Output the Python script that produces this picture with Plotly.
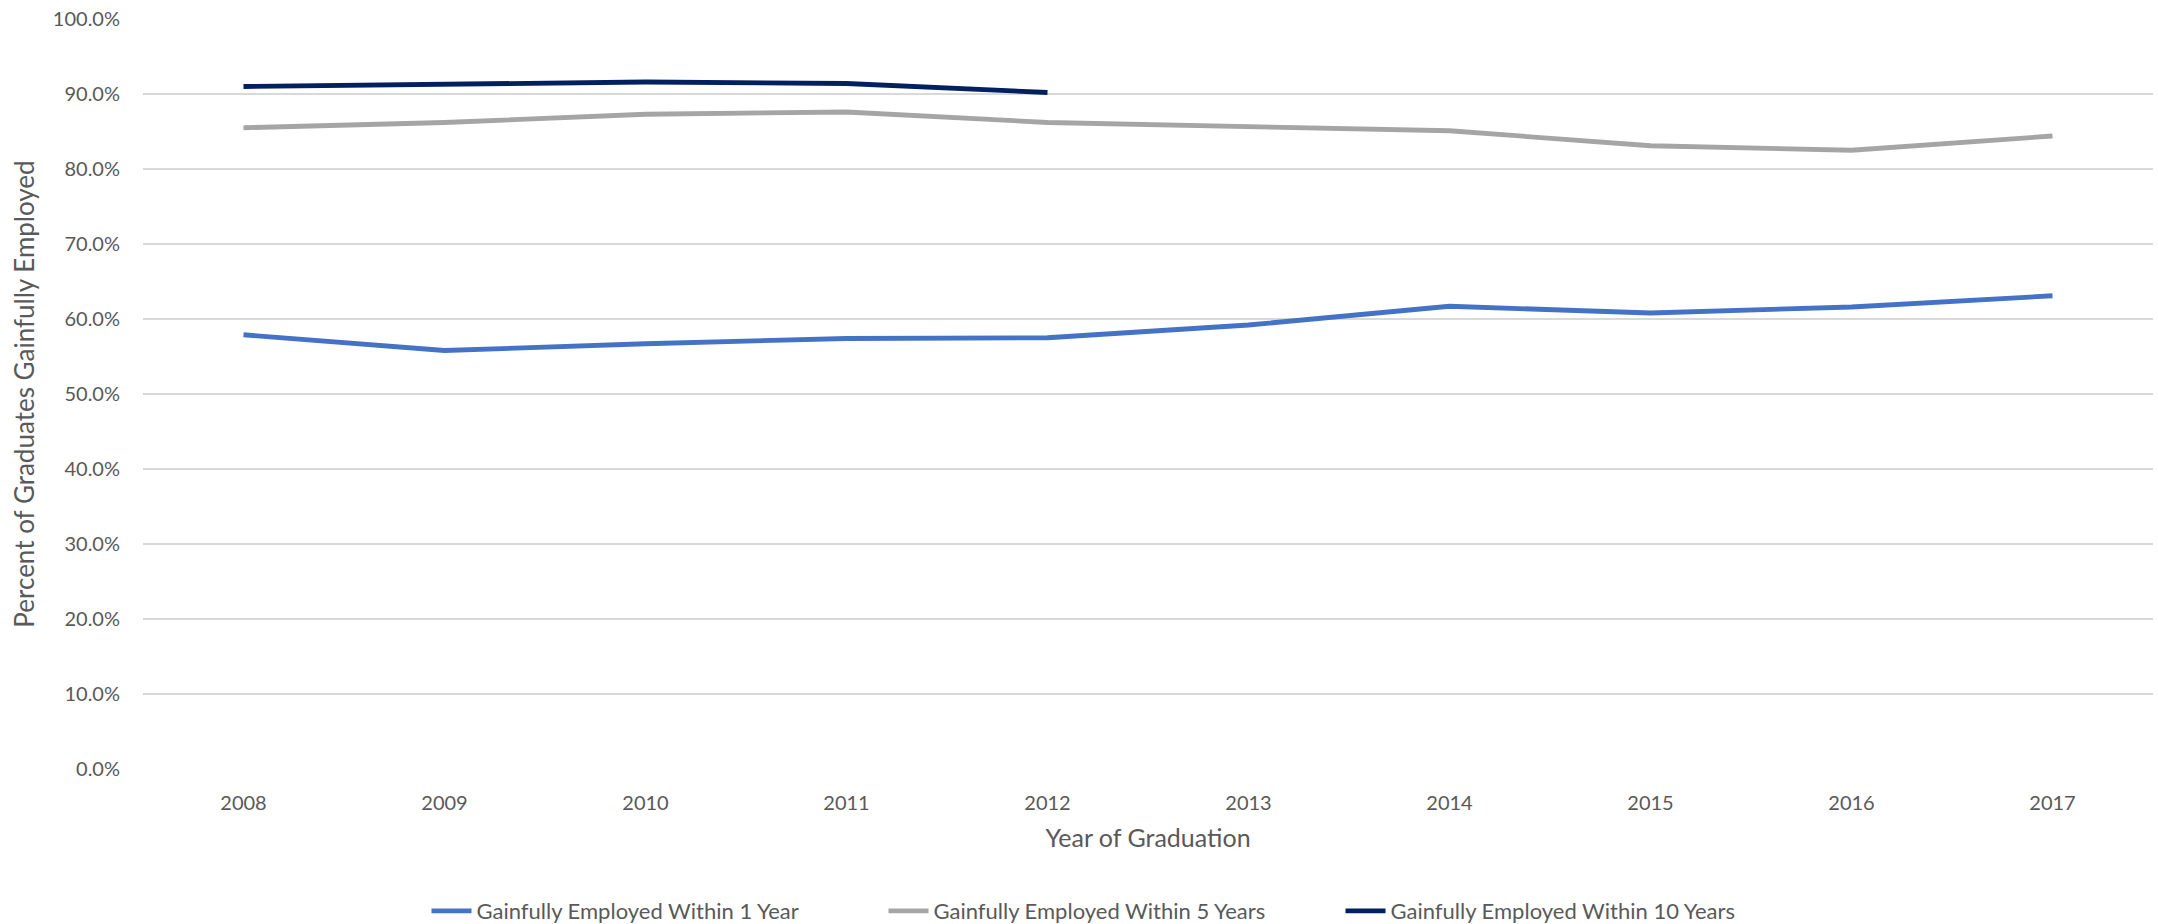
import plotly.graph_objects as go

years = ["2008", "2009", "2010", "2011", "2012", "2013", "2014", "2015", "2016", "2017"]
within_1_year = [0.579, 0.558, 0.567, 0.574, 0.575, 0.592, 0.617, 0.608, 0.616, 0.631]
within_5_years = [0.855, 0.862, 0.873, 0.876, 0.862, 0.857, 0.851, 0.831, 0.825, 0.844]
years_10 = ["2008", "2009", "2010", "2011", "2012"]
within_10_years = [0.910, 0.913, 0.916, 0.914, 0.902]

series_names = ["Gainfully Employed Within 1 Year",
                "Gainfully Employed Within 5 Years",
                "Gainfully Employed Within 10 Years"]
colors = ["#4472C4", "#A5A5A5", "#002060"]
y_ticks = [i / 10 for i in range(11)]

FONT = "Lato, 'Open Sans', sans-serif"
TXT = "#595959"

fig = go.Figure()
for xs, ys, name, c in [(years, within_1_year, series_names[0], colors[0]),
                        (years, within_5_years, series_names[1], colors[1]),
                        (years_10, within_10_years, series_names[2], colors[2])]:
    fig.add_trace(go.Scatter(x=xs, y=ys, name=name, mode="lines",
                             line=dict(color=c, width=4.8)))

fig.update_layout(
    width=2158, height=924,
    margin=dict(l=143, r=5, t=19, b=154.5),
    paper_bgcolor="white", plot_bgcolor="white",
    font=dict(family=FONT, size=20, color=TXT),
    showlegend=True,
    legend=dict(orientation="h", xref="container", yref="container",
                x=0.5 + 33 / 2158, xanchor="center", y=(924 - 911) / 924, yanchor="middle",
                font=dict(size=22, color=TXT),
                entrywidth=402, entrywidthmode="pixels",
                itemwidth=40),
    xaxis=dict(type="category", categoryorder="array", categoryarray=years,
               range=[-0.5, 9.5], showgrid=False, showline=False, zeroline=False,
               ticks="", ticklabelstandoff=20,
               tickfont=dict(size=20, color=TXT),
               title=dict(text="Year of Graduation", font=dict(size=25, color=TXT),
                          standoff=16)),
    yaxis=dict(range=[0, 1], tickvals=y_ticks, tickformat=".1%",
               showgrid=True, gridcolor="#D9D9D9", gridwidth=1.5,
               zeroline=False, showline=False, ticks="",
               ticklabelstandoff=22,
               tickfont=dict(size=20, color=TXT),
               title=dict(text="Percent of Graduates Gainfully Employed",
                          font=dict(size=26, color=TXT), standoff=10)),
)

fig.write_html("out.html")
